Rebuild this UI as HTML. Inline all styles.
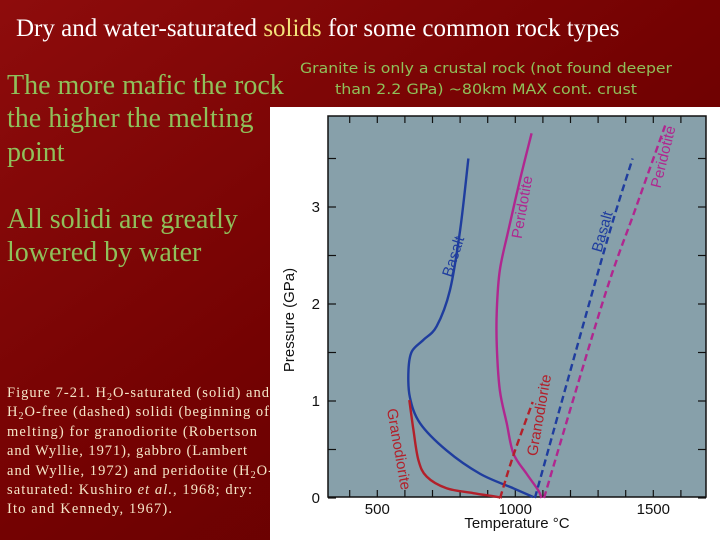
<!DOCTYPE html>
<html><head><meta charset="utf-8"><style>
html,body{margin:0;padding:0;width:720px;height:540px;overflow:hidden;background:#6a0000}
svg{display:block}
</style></head><body>
<svg width="720" height="540" xmlns="http://www.w3.org/2000/svg">
<defs>
<linearGradient id="bg" x1="0" y1="0" x2="1" y2="1">
<stop offset="0" stop-color="#8e0c0c"/><stop offset="0.5" stop-color="#740202"/><stop offset="1" stop-color="#5e0000"/>
</linearGradient>
</defs>
<rect width="720" height="540" fill="url(#bg)"/>
<text x="16" y="36" font-family="Liberation Serif, serif" font-size="25" fill="#ffffff">Dry and water-saturated <tspan fill="#f3e27a">solids</tspan> for some common rock types</text>
<g font-family="Liberation Serif, serif" font-size="28" fill="#8fc05a">
<text x="7" y="94">The more mafic the rock</text>
<text x="7" y="127">the higher the melting</text>
<text x="7" y="161">point</text>
<text x="7" y="228">All solidi are greatly</text>
<text x="7" y="261">lowered by water</text>
</g>
<g font-family="DejaVu Sans, sans-serif" font-size="14.5" fill="#8fc05a" text-anchor="middle">
<text x="486" y="73" textLength="372" lengthAdjust="spacingAndGlyphs">Granite is only a crustal rock (not found deeper</text>
<text x="486" y="94" textLength="302" lengthAdjust="spacingAndGlyphs">than 2.2 GPa) ~80km MAX cont. crust</text>
</g>
<g font-family="Liberation Serif, serif" font-size="14.5" fill="#f5e6c8">
<text x="7" y="397" textLength="262" lengthAdjust="spacing">Figure 7-21. H<tspan font-size="10" dy="3">2</tspan><tspan dy="-3">O-saturated (solid) and</tspan></text>
<text x="7" y="416" textLength="262" lengthAdjust="spacing">H<tspan font-size="10" dy="3">2</tspan><tspan dy="-3">O-free (dashed) solidi (beginning of</tspan></text>
<text x="7" y="436" textLength="250" lengthAdjust="spacing">melting) for granodiorite (Robertson</text>
<text x="7" y="455" textLength="240" lengthAdjust="spacing">and Wyllie, 1971), gabbro (Lambert</text>
<text x="7" y="475" textLength="266" lengthAdjust="spacing">and Wyllie, 1972) and peridotite (H<tspan font-size="10" dy="3">2</tspan><tspan dy="-3">O-</tspan></text>
<text x="7" y="494" textLength="245" lengthAdjust="spacing">saturated: Kushiro <tspan font-style="italic">et al.</tspan>, 1968; dry:</text>
<text x="7" y="513" textLength="165" lengthAdjust="spacing">Ito and Kennedy, 1967).</text>
</g>
<rect x="270" y="107" width="450" height="433" fill="#ffffff"/>
<rect x="328" y="116" width="378" height="381" fill="#87a0aa" stroke="#111" stroke-width="1.5"/>
<g id="ticks" stroke="#111" stroke-width="1.2"></g>
<g id="tlabels" font-family="Liberation Sans, sans-serif" font-size="15" fill="#111"></g>
<text x="517" y="528" text-anchor="middle" font-family="Liberation Sans, sans-serif" font-size="15" fill="#111">Temperature °C</text>
<text transform="translate(294,320) rotate(-90)" text-anchor="middle" font-family="Liberation Sans, sans-serif" font-size="15" fill="#111">Pressure (GPa)</text>
<g id="curves" fill="none" stroke-width="2.4"></g>
<g font-family="Liberation Sans, sans-serif" font-size="15">
<text transform="translate(458,258) rotate(-72)" text-anchor="middle" fill="#1f3d9e">Basalt</text>
<text transform="translate(527,208) rotate(-80)" text-anchor="middle" fill="#b0278f">Peridotite</text>
<text transform="translate(607,233) rotate(-74)" text-anchor="middle" fill="#1f3d9e">Basalt</text>
<text transform="translate(668,158) rotate(-76)" text-anchor="middle" fill="#b0278f">Peridotite</text>
<text transform="translate(394,450) rotate(80)" text-anchor="middle" fill="#b2202a">Granodiorite</text>
<text transform="translate(544,416) rotate(-80)" text-anchor="middle" fill="#b2202a">Granodiorite</text>
</g>
</svg>
<script>
const xTicks = [400,500,600,700,800,900,1000,1100,1200,1300,1400,1500,1600];
const xTickLabels = [500,1000,1500];
const yTicks = [0,0.5,1,1.5,2,2.5,3,3.5];
const yTickLabels = [0,1,2,3];
const basaltWetT = [830,800,763,715,667,625,613,618,655,751,872,993,1065];
const basaltWetP = [3.50,2.76,2.14,1.77,1.63,1.51,1.32,1.04,0.77,0.49,0.25,0.10,0.01];
const peridotiteWetT = [1059,1017,975,944,933,933,944,969,993,1041,1083,1095];
const peridotiteWetP = [3.76,3.28,2.76,2.35,1.94,1.56,1.11,0.77,0.46,0.25,0.08,0.0];
const granodioriteWetT = [616,631,649,679,751,848,938,945];
const granodioriteWetP = [1.01,0.70,0.39,0.22,0.10,0.05,0.01,0.0];
const granodioriteDryT = [945,993,1063];
const granodioriteDryP = [0.0,0.44,0.99];
const basaltDryT = [1071,1319,1425];
const basaltDryP = [0.0,2.52,3.5];
const peridotiteDryT = [1104,1319,1434,1543];
const peridotiteDryP = [0.0,2.04,2.97,3.84];

const X = t => 377.3 + (t-500)*0.276;
const Y = p => 498 - p*97;
const NS='http://www.w3.org/2000/svg';
const ticks=document.getElementById('ticks');
function line(x1,y1,x2,y2){const l=document.createElementNS(NS,'line');
l.setAttribute('x1',x1);l.setAttribute('y1',y1);l.setAttribute('x2',x2);l.setAttribute('y2',y2);


ticks.appendChild(l);}
xTicks.forEach(t=>{const x=X(t);line(x,497,x,490);line(x,116,x,123);});
yTicks.forEach(p=>{const y=Y(p);line(328,y,336,y);line(706,y,698,y);});
const tl=document.getElementById('tlabels');
xTickLabels.forEach(t=>{const e=document.createElementNS(NS,'text');e.setAttribute('x',X(t));e.setAttribute('y',514);e.setAttribute('text-anchor','middle');e.textContent=t;


tl.appendChild(e);});
yTickLabels.forEach(p=>{const e=document.createElementNS(NS,'text');e.setAttribute('x',320);e.setAttribute('y',Y(p)+5);e.setAttribute('text-anchor','end');e.textContent=p;


tl.appendChild(e);});
function smooth(pts){let d='M'+pts[0][0]+','+pts[0][1];
for(let i=0;i<pts.length-1;i++){const p0=pts[i-1]||pts[i],p1=pts[i],p2=pts[i+1],p3=pts[i+2]||p2;
const c1=[p1[0]+(p2[0]-p0[0])/6,p1[1]+(p2[1]-p0[1])/6],c2=[p2[0]-(p3[0]-p1[0])/6,p2[1]-(p3[1]-p1[1])/6];
d+=' C'+c1+' '+c2+' '+p2;}return d;}
const cg=document.getElementById('curves');
function curve(T,P,color,dash,name){const p=document.createElementNS(NS,'path');
p.setAttribute('d',smooth(T.map((t,i)=>[X(t),Y(P[i])])));p.setAttribute('stroke',color);
if(dash)p.setAttribute('stroke-dasharray','7 4');


cg.appendChild(p);}
curve(basaltWetT,basaltWetP,'#1f3d9e',false,'basalt-wet-curve');
curve(peridotiteWetT,peridotiteWetP,'#b0278f',false,'peridotite-wet-curve');
curve(granodioriteWetT,granodioriteWetP,'#b2202a',false,'granodiorite-wet-curve');
curve(granodioriteDryT,granodioriteDryP,'#b2202a',true,'granodiorite-dry-curve');
curve(basaltDryT,basaltDryP,'#1f3d9e',true,'basalt-dry-curve');
curve(peridotiteDryT,peridotiteDryP,'#b0278f',true,'peridotite-dry-curve');
</script>
</body></html>
